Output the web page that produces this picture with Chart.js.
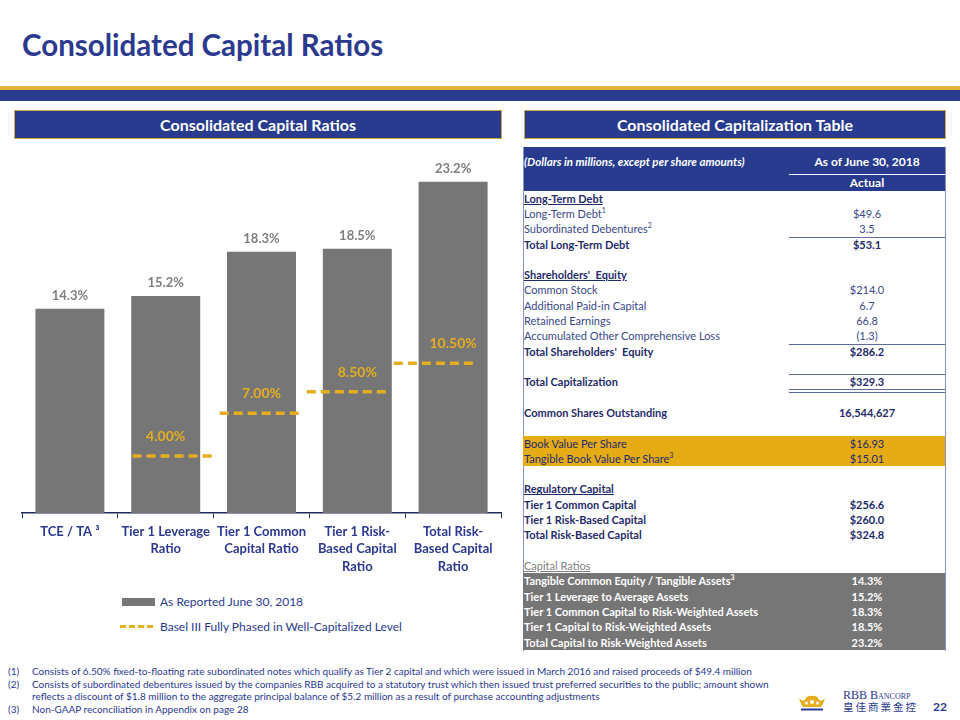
<!DOCTYPE html>
<html><head><meta charset="utf-8">
<script src="https://cdn.jsdelivr.net/npm/chart.js@4.4.1/dist/chart.umd.min.js"></script>
<style>
html,body{margin:0;padding:0;background:#fff;}
#slide{position:relative;width:960px;height:720px;overflow:hidden;font-family:Lato,'Noto Sans',sans-serif;color:#2B3990;}
.abs{position:absolute;}
.secbox{position:absolute;background:#283B8E;border:1px solid #C9A545;box-sizing:border-box;color:#fff;font-weight:700;font-size:16px;text-align:center;line-height:27px;}
.row{position:absolute;left:523px;width:422px;height:15.31px;line-height:15.31px;font-size:11px;color:#3A4888;white-space:nowrap;}
.row .lab{position:absolute;left:1px;top:0;}
.row .val{position:absolute;left:266px;width:156px;text-align:center;top:0;}
.row sup{font-size:7px;line-height:0;vertical-align:5px;}
.hline{position:absolute;height:1px;background:#5E6AA6;}
.fn{position:absolute;font-size:10px;line-height:12px;color:#2B3990;white-space:nowrap;}
</style></head><body>
<div id="slide">
  <div class="abs" style="left:22px;top:26px;font-size:29.5px;font-weight:700;color:#2B3A8F;line-height:38px;">Consolidated Capital Ratios</div>
  <div class="abs" style="left:0;top:86px;width:960px;height:4px;background:#E4B33A;"></div>
  <div class="abs" style="left:0;top:90px;width:960px;height:11px;background:#283B8E;"></div>

  <div class="secbox" style="left:14px;top:110px;width:488px;height:29px;">Consolidated Capital Ratios</div>
  <div class="secbox" style="left:524px;top:110px;width:422px;height:29px;">Consolidated Capitalization Table</div>

  <canvas id="c" width="510" height="440" style="position:absolute;left:0;top:140px;"></canvas>

  <div class="abs" style="left:122px;top:598px;width:33px;height:8px;background:#767676;"></div>
  <div class="abs" style="left:160px;top:594px;font-size:12px;line-height:16px;color:#2B3990;">As Reported June 30, 2018</div>
  <div class="abs" style="left:120px;top:625px;width:33px;height:0;border-top:3px dashed #E5AE21;"></div>
  <div class="abs" style="left:160px;top:619px;font-size:12px;line-height:16px;color:#2B3990;">Basel III Fully Phased in Well-Capitalized Level</div>

  <div id="table"></div>

  <div class="fn" style="left:8px;top:665px;">(1)</div>
  <div class="fn" style="left:32px;top:665px;">Consists of 6.50% fixed-to-floating rate subordinated notes which qualify as Tier 2 capital and which were issued in March 2016 and raised proceeds of $49.4 million</div>
  <div class="fn" style="left:8px;top:678px;">(2)</div>
  <div class="fn" style="left:32px;top:678px;">Consists of subordinated debentures issued by the companies RBB acquired to a statutory trust which then issued trust preferred securities to the public; amount shown</div>
  <div class="fn" style="left:32px;top:690px;">reflects a discount of $1.8 million to the aggregate principal balance of $5.2 million as a result of purchase accounting adjustments</div>
  <div class="fn" style="left:8px;top:703px;">(3)</div>
  <div class="fn" style="left:32px;top:703px;">Non-GAAP reconciliation in Appendix on page 28</div>

  <svg class="abs" style="left:798px;top:695px;" width="28" height="17" viewBox="0 0 28 17">
    <path d="M1 3 Q3 10 5 12 L23 12 Q25 10 27 3 Q24 7 21 5 Q19 0 14 1 Q9 0 7 5 Q4 7 1 3 Z" fill="#E5AE21"/>
    <circle cx="14" cy="7" r="2" fill="#fff"/>
    <circle cx="8.5" cy="8" r="1.6" fill="#fff"/>
    <circle cx="19.5" cy="8" r="1.6" fill="#fff"/>
    <rect x="3" y="13.5" width="22" height="2" fill="#2B3990"/>
  </svg>
  <div class="abs" style="left:843px;top:688px;font-family:'Liberation Serif',serif;font-variant:small-caps;font-size:12px;line-height:14px;color:#2B3990;">RBB Bancorp</div>
  <div class="abs" style="left:843px;top:700px;font-family:'Noto Sans CJK TC',sans-serif;font-size:10.5px;letter-spacing:2px;line-height:14px;color:#2B3990;">皇佳商業金控</div>
  <div class="abs" style="left:933px;top:700px;font-size:12px;font-weight:700;line-height:14px;color:#2B3990;">22</div>
</div>

<script>
const categories = [["TCE / TA ³"], ["Tier 1 Leverage", "Ratio"], ["Tier 1 Common", "Capital Ratio"], ["Tier 1 Risk-", "Based Capital", "Ratio"], ["Total Risk-", "Based Capital", "Ratio"]];
const reportedRatios = [14.3, 15.2, 18.3, 18.5, 23.2];
const baselLevels = [null, 4.00, 7.00, 8.50, 10.50];
const seriesNames = ["As Reported June 30, 2018", "Basel III Fully Phased in Well-Capitalized Level"];

const tableLabels = ["Long-Term Debt", "Long-Term Debt<sup>1</sup>", "Subordinated Debentures<sup>2</sup>", "Total Long-Term Debt", "",
  "Shareholders'&nbsp; Equity", "Common Stock", "Additional Paid-in Capital", "Retained Earnings", "Accumulated Other Comprehensive Loss", "Total Shareholders'&nbsp; Equity", "",
  "Total Capitalization", "", "Common Shares Outstanding", "", "Book Value Per Share", "Tangible Book Value Per Share<sup>3</sup>", "",
  "Regulatory Capital", "Tier 1 Common Capital", "Tier 1 Risk-Based Capital", "Total Risk-Based Capital", "",
  "Capital Ratios", "Tangible Common Equity / Tangible Assets<sup>3</sup>", "Tier 1 Leverage to Average Assets", "Tier 1 Common Capital to Risk-Weighted Assets", "Tier 1 Capital to Risk-Weighted Assets", "Total Capital to Risk-Weighted Assets"];
const tableValues = ["", "$49.6", "3.5", "$53.1", "",
  "", "$214.0", "6.7", "66.8", "(1.3)", "$286.2", "",
  "$329.3", "", "16,544,627", "", "$16.93", "$15.01", "",
  "", "$256.6", "$260.0", "$324.8", "",
  "", "14.3%", "15.2%", "18.3%", "18.5%", "23.2%"];
const tableHeader = ["(Dollars in millions, except per share amounts)", "As of June 30, 2018", "Actual"];

(function(){
  const T = document.getElementById('table');
  const top0 = 190.6, pitch = 15.31;
  const underline = new Set([0,5,19,24]);
  const bold = new Set([0,3,5,10,12,14,19,20,21,22,25,26,27,28,29]);
  const gold = new Set([16,17]);
  const grey = new Set([25,26,27,28,29]);
  let h = '';
  h += '<div class="abs" style="left:523px;top:146.5px;width:422px;height:44px;background:#283B8E;"></div>';
  h += '<div class="abs" style="left:524px;top:154px;font-size:11.5px;font-weight:700;font-style:italic;color:#fff;line-height:15px;white-space:nowrap;">'+tableHeader[0]+'</div>';
  h += '<div class="abs" style="left:789px;top:154px;width:156px;text-align:center;font-size:12px;font-weight:700;color:#fff;line-height:15px;">'+tableHeader[1]+'</div>';
  h += '<div class="abs" style="left:789px;top:174px;width:156px;height:1px;background:#fff;"></div>';
  h += '<div class="abs" style="left:789px;top:175px;width:156px;text-align:center;font-size:12px;font-weight:700;color:#fff;line-height:15px;">'+tableHeader[2]+'</div>';
  h += '<div class="abs" style="left:523px;top:146.5px;width:1px;height:504px;background:#8A92C2;"></div>';
  h += '<div class="abs" style="left:945px;top:146.5px;width:1px;height:504px;background:#8A92C2;"></div>';
  h += '<div class="abs" style="left:523px;top:'+(top0+16*pitch)+'px;width:422px;height:'+(2*pitch)+'px;background:#E5AC16;"></div>';
  h += '<div class="abs" style="left:523px;top:'+(top0+25*pitch)+'px;width:422px;height:'+(5*pitch)+'px;background:#767676;"></div>';
  tableLabels.forEach((lab,i)=>{
    const top = top0 + i*pitch;
    let color = bold.has(i) ? '#1F2B6C' : '#3A4888';
    if (grey.has(i)) color = '#fff';
    if (i===24) color = '#7F7F7F';
    if (gold.has(i)) color = '#1F2B6C';
    const fw = bold.has(i) ? 700 : 400;
    const ul = underline.has(i) ? 'text-decoration:underline;' : '';
    h += '<div class="row" style="top:'+top+'px;color:'+color+';font-weight:'+fw+';">'
      + '<span class="lab" style="'+ul+'">'+lab+'</span>'
      + '<span class="val">'+tableValues[i]+'</span></div>';
  });
  const rule = y => '<div class="hline" style="left:789px;width:156px;top:'+y+'px;"></div>';
  h += rule(top0+3*pitch);
  h += rule(top0+10*pitch);
  h += rule(top0+12*pitch);
  h += rule(top0+13*pitch - 0.5);
  h += rule(top0+13*pitch + 2.5);
  T.innerHTML = h;
})();

const GOLD = '#E5AE21';
const basLineData = [];
baselLevels.forEach((v,i)=>{
  if (v == null) return;
  basLineData.push({x: i - 0.48, y: v});
  basLineData.push({x: i + 0.47, y: v});
  basLineData.push({x: i + 0.5, y: null});
});

const labelPlugin = {
  id: 'valueLabels',
  afterDatasetsDraw(chart) {
    const ctx = chart.ctx;
    const xs = chart.scales.x, ys = chart.scales.y;
    ctx.save();
    ctx.textAlign = 'center';
    ctx.textBaseline = 'alphabetic';
    ctx.font = '700 13px Lato';
    ctx.fillStyle = '#7F7F7F';
    chart.getDatasetMeta(0).data.forEach((el, i) => {
      ctx.fillText(reportedRatios[i].toFixed(1) + '%', el.x, el.y - 9);
    });
    ctx.font = '700 14px Lato';
    ctx.fillStyle = GOLD;
    baselLevels.forEach((v, i) => {
      if (v == null) return;
      ctx.fillText(v.toFixed(2) + '%', xs.getPixelForValue(i), ys.getPixelForValue(v) - 15);
    });
    ctx.restore();
  }
};

Chart.defaults.font.family = 'Lato';
new Chart(document.getElementById('c'), {
  type: 'bar',
  data: {
    labels: categories,
    datasets: [
      { type: 'bar', label: seriesNames[0], data: reportedRatios, backgroundColor: '#767676',
        barPercentage: 0.9, categoryPercentage: 0.8, grouped: false, order: 2, xAxisID: 'x', yAxisID: 'y' },
      { type: 'line', label: seriesNames[1], data: basLineData, xAxisID: 'x2', yAxisID: 'y',
        borderColor: GOLD, borderWidth: 3.5, borderDash: [9, 5], pointRadius: 0, fill: false,
        spanGaps: false, order: 1, borderCapStyle: 'butt' }
    ]
  },
  options: {
    responsive: false,
    animation: false,
    devicePixelRatio: 1,
    layout: { padding: { left: 22, right: 9, top: 16, bottom: 0 } },
    plugins: { legend: { display: false }, tooltip: { enabled: false } },
    scales: {
      x: {
        type: 'category',
        offset: true,
        grid: { display: true, drawOnChartArea: false, drawTicks: true, tickLength: 5, color: '#1F2A5A', lineWidth: 1, offset: true },
        border: { display: true, color: '#1F2A5A', width: 1.5 },
        ticks: { color: '#2B3990', font: { family: 'Lato', size: 13, weight: '700', lineHeight: 1.33 }, padding: 5, maxRotation: 0, autoSkip: false }
      },
      x2: { type: 'linear', display: false, min: -0.5, max: 4.5 },
      y: { display: false, min: 0, max: 25 }
    }
  },
  plugins: [labelPlugin]
});
</script>
</body></html>
